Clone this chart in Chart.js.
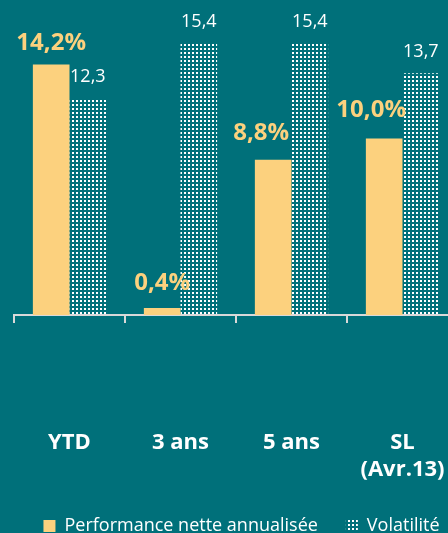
<!DOCTYPE html>
<html>
<head>
<meta charset="utf-8">
<script src="https://cdn.jsdelivr.net/npm/chart.js@4"></script>
<style>
  html, body { margin: 0; padding: 0; background: #00707a; overflow: hidden; }
  canvas { display: block; }
</style>
</head>
<body>
<canvas id="chart" width="472" height="545"></canvas>
<script>
const categories = ['YTD', '3 ans', '5 ans', ['SL', '(Avr.13)']]
const performance = [14.2, 0.4, 8.8, 10.0]
const volatility = [12.3, 15.4, 15.4, 13.7]
const seriesNames = ['Performance nette annualisée', 'Volatilité']

const gold = '#fcd17e'

// white dotted fill for the volatility bars
const dots = () => {
  const c = document.createElement('canvas')
  c.width = 4
  c.height = 4
  const g = c.getContext('2d')
  g.fillStyle = '#ffffff'
  g.fillRect(0, 0, 2, 2)
  return g.createPattern(c, 'repeat')
}

const fmt = (v) => v.toFixed(1).replace('.', ',')

const valueLabels = {
  id: 'valueLabels',
  afterDatasetsDraw(chart, args, opts) {
    const ctx = chart.ctx
    chart.data.datasets.forEach((ds, di) => {
      const meta = chart.getDatasetMeta(di)
      const st = opts.styles[di]
      ctx.save()
      ctx.font = st.font
      ctx.fillStyle = st.color
      ctx.textAlign = 'center'
      ctx.textBaseline = 'middle'
      meta.data.forEach((bar, i) => {
        const n = st.nudge[i]
        ctx.fillText(st.text(ds.data[i]), bar.x + n[0], bar.y - n[1])
      })
      ctx.restore()
    })
  }
}

const pattern = dots()

new Chart(document.getElementById('chart').getContext('2d'), {
  type: 'bar',
  data: {
    labels: categories,
    datasets: [{
      label: seriesNames[0],
      data: performance,
      backgroundColor: gold,
      borderWidth: 0,
      categoryPercentage: 0.66,
      barPercentage: 1.0
    }, {
      label: seriesNames[1],
      data: volatility,
      backgroundColor: pattern,
      borderWidth: 0,
      categoryPercentage: 0.66,
      barPercentage: 1.0
    }]
  },
  options: {
    responsive: false,
    animation: false,
    devicePixelRatio: 1,
    layout: {
      padding: { left: 11, right: 0, top: 1, bottom: 0 }
    },
    plugins: {
      legend: {
        position: 'bottom',
        labels: {
          color: '#ffffff',
          boxWidth: 12,
          boxHeight: 12,
          padding: 28,
          font: { family: 'Open Sans', size: 18 }
        }
      },
      tooltip: { enabled: false },
      valueLabels: {
        styles: [{
          font: 'bold 24px "Open Sans"',
          color: gold,
          text: (v) => fmt(v) + '%',
          nudge: [[0, 21], [0, 25], [-12, 27], [-13, 28]]
        }, {
          font: '18px "Open Sans"',
          color: '#ffffff',
          text: fmt,
          nudge: [[0, 21.5], [0, 21.5], [0, 21.5], [0, 21]]
        }]
      }
    },
    scales: {
      y: {
        display: false,
        min: 0,
        max: 17.8
      },
      x: {
        // keep the big label gap from widening the side margins
        afterFit: (s) => {
          s.paddingLeft = 14
          s.paddingRight = 14
          s.height = 174
        },
        grid: {
          display: true,
          offset: true,
          drawOnChartArea: false,
          drawTicks: true,
          tickLength: 8,
          color: '#d9d9d9',
          lineWidth: 2
        },
        border: {
          display: true,
          color: '#d9d9d9',
          width: 2
        },
        ticks: {
          color: '#ffffff',
          padding: 106,
          maxRotation: 0,
          autoSkip: false,
          font: { family: 'Open Sans', size: 22, weight: 'bold', lineHeight: 1.23 }
        }
      }
    }
  },
  plugins: [valueLabels]
})
</script>
</body>
</html>
